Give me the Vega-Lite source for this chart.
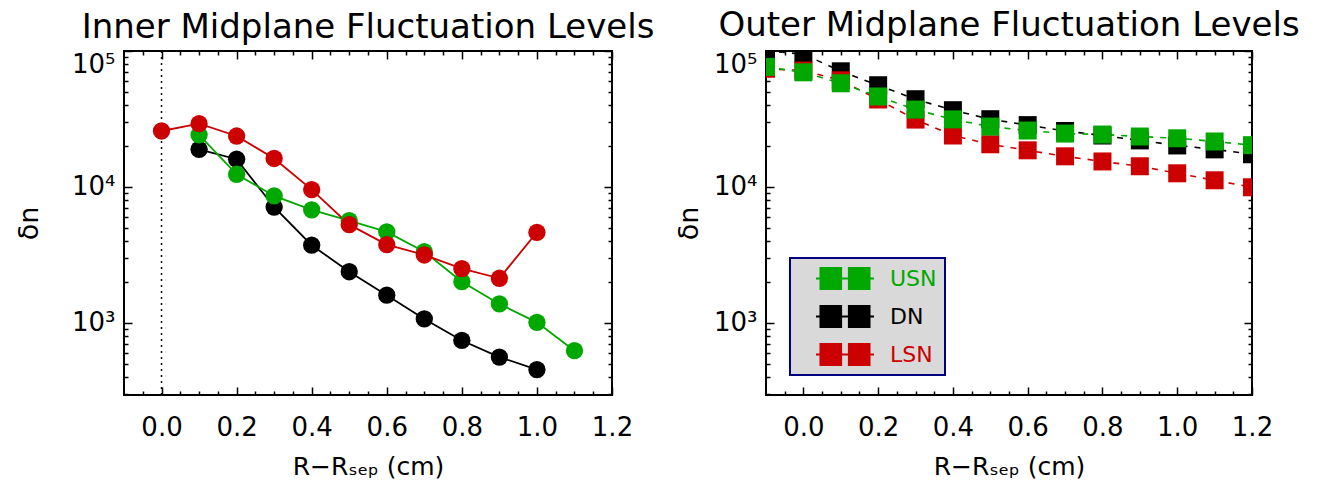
{
  "$schema": "https://vega.github.io/schema/vega-lite/v6.json",
  "padding": {"left": 14, "top": 8, "right": 0, "bottom": 0},
  "background": "white",
  "datasets": {
    "inner": [
      {"series": "DN", "r": 0.1, "dn": 18900},
      {"series": "DN", "r": 0.2, "dn": 16000},
      {"series": "DN", "r": 0.3, "dn": 7110},
      {"series": "DN", "r": 0.4, "dn": 3730},
      {"series": "DN", "r": 0.5, "dn": 2380},
      {"series": "DN", "r": 0.6, "dn": 1600},
      {"series": "DN", "r": 0.7, "dn": 1070},
      {"series": "DN", "r": 0.8, "dn": 743},
      {"series": "DN", "r": 0.9, "dn": 561},
      {"series": "DN", "r": 1.0, "dn": 454},
      {"series": "USN", "r": 0.1, "dn": 24200},
      {"series": "USN", "r": 0.2, "dn": 12400},
      {"series": "USN", "r": 0.3, "dn": 8590},
      {"series": "USN", "r": 0.4, "dn": 6790},
      {"series": "USN", "r": 0.5, "dn": 5650},
      {"series": "USN", "r": 0.6, "dn": 4670},
      {"series": "USN", "r": 0.7, "dn": 3340},
      {"series": "USN", "r": 0.8, "dn": 2010},
      {"series": "USN", "r": 0.9, "dn": 1380},
      {"series": "USN", "r": 1.0, "dn": 1010},
      {"series": "USN", "r": 1.1, "dn": 625},
      {"series": "LSN", "r": 0.0, "dn": 25800},
      {"series": "LSN", "r": 0.1, "dn": 29200},
      {"series": "LSN", "r": 0.2, "dn": 23700},
      {"series": "LSN", "r": 0.3, "dn": 16200},
      {"series": "LSN", "r": 0.4, "dn": 9560},
      {"series": "LSN", "r": 0.5, "dn": 5280},
      {"series": "LSN", "r": 0.6, "dn": 3770},
      {"series": "LSN", "r": 0.7, "dn": 3160},
      {"series": "LSN", "r": 0.8, "dn": 2510},
      {"series": "LSN", "r": 0.9, "dn": 2130},
      {"series": "LSN", "r": 1.0, "dn": 4640}
    ],
    "outer": [
      {"series": "DN", "r": -0.1, "dn": 100000},
      {"series": "DN", "r": 0.0, "dn": 95000},
      {"series": "DN", "r": 0.1, "dn": 70900},
      {"series": "DN", "r": 0.2, "dn": 56000},
      {"series": "DN", "r": 0.3, "dn": 44200},
      {"series": "DN", "r": 0.4, "dn": 36700},
      {"series": "DN", "r": 0.5, "dn": 31500},
      {"series": "DN", "r": 0.6, "dn": 28500},
      {"series": "DN", "r": 0.7, "dn": 25800},
      {"series": "DN", "r": 0.8, "dn": 23900},
      {"series": "DN", "r": 0.9, "dn": 22000},
      {"series": "DN", "r": 1.0, "dn": 20200},
      {"series": "DN", "r": 1.1, "dn": 18900},
      {"series": "DN", "r": 1.2, "dn": 17400},
      {"series": "LSN", "r": -0.1, "dn": 74000},
      {"series": "LSN", "r": 0.0, "dn": 71800},
      {"series": "LSN", "r": 0.1, "dn": 60900},
      {"series": "LSN", "r": 0.2, "dn": 44000},
      {"series": "LSN", "r": 0.3, "dn": 31300},
      {"series": "LSN", "r": 0.4, "dn": 23900},
      {"series": "LSN", "r": 0.5, "dn": 20600},
      {"series": "LSN", "r": 0.6, "dn": 18600},
      {"series": "LSN", "r": 0.7, "dn": 16800},
      {"series": "LSN", "r": 0.8, "dn": 15400},
      {"series": "LSN", "r": 0.9, "dn": 14200},
      {"series": "LSN", "r": 1.0, "dn": 12600},
      {"series": "LSN", "r": 1.1, "dn": 11200},
      {"series": "LSN", "r": 1.2, "dn": 9950},
      {"series": "USN", "r": -0.1, "dn": 76400},
      {"series": "USN", "r": 0.0, "dn": 69700},
      {"series": "USN", "r": 0.1, "dn": 57900},
      {"series": "USN", "r": 0.2, "dn": 46300},
      {"series": "USN", "r": 0.3, "dn": 37100},
      {"series": "USN", "r": 0.4, "dn": 31400},
      {"series": "USN", "r": 0.5, "dn": 27800},
      {"series": "USN", "r": 0.6, "dn": 26000},
      {"series": "USN", "r": 0.7, "dn": 24700},
      {"series": "USN", "r": 0.8, "dn": 24300},
      {"series": "USN", "r": 0.9, "dn": 23500},
      {"series": "USN", "r": 1.0, "dn": 22800},
      {"series": "USN", "r": 1.1, "dn": 21600},
      {"series": "USN", "r": 1.2, "dn": 20300}
    ],
    "zero": [{"r": 0}]
  },
  "resolve": {"scale": {"color": "independent"}, "legend": {"color": "independent"}},
  "hconcat": [
    {
      "width": 488,
      "height": 344,
      "title": {"text": "Inner Midplane Fluctuation Levels", "fontSize": 34, "font": "DejaVu Sans", "fontWeight": "normal", "color": "black", "anchor": "middle", "offset": 5},
      "resolve": {"axis": {"x": "independent", "y": "independent"}},
      "layer": [
        {
          "data": {"name": "zero"},
          "mark": {"type": "rule", "strokeDash": [2, 4], "strokeWidth": 1.5, "color": "black"},
          "encoding": {
            "x": {"field": "r", "type": "quantitative", "scale": {"domain": [-0.1, 1.2], "nice": false, "zero": false}, "axis": null}
          }
        },
        {
          "data": {"name": "inner"},
          "mark": {"type": "line", "strokeWidth": 1.8, "clip": true},
          "encoding": {
            "x": {"field": "r", "type": "quantitative", "scale": {"domain": [-0.1, 1.2], "nice": false, "zero": false},
              "axis": {"orient": "bottom", "values": [0, 0.2, 0.4, 0.6, 0.8, 1.0, 1.2], "format": ".1f", "tickSize": -8, "labelPadding": 27, "labelFontSize": 26, "labelFlush": false, "title": "R−Rₛₑₚ (cm)", "titleFontSize": 25, "titlePadding": 14}},
            "y": {"field": "dn", "type": "quantitative", "scale": {"type": "log", "domain": [295, 100000], "nice": false},
              "axis": {"orient": "left", "values": [1000, 10000, 100000], "labelExpr": "datum.value == 1000 ? '10³' : datum.value == 10000 ? '10⁴' : '10⁵'", "labelBaseline": {"condition": {"test": "datum.value == 100000", "value": "top"}, "value": "middle"}, "tickSize": -8, "labelPadding": 17, "labelFontSize": 26, "labelFlush": false, "title": "δn", "titleFontSize": 27, "titlePadding": 28}},
            "color": {"field": "series", "type": "nominal", "scale": {"domain": ["USN", "DN", "LSN"], "range": ["#00a800", "#000000", "#cc0000"]}, "legend": null}
          }
        },
        {
          "data": {"name": "inner"},
          "mark": {"type": "circle", "size": 300, "opacity": 1, "clip": true},
          "encoding": {
            "x": {"field": "r", "type": "quantitative", "scale": {"domain": [-0.1, 1.2], "nice": false, "zero": false},
              "axis": {"orient": "bottom", "values": [-0.05, 0.05, 0.1, 0.15, 0.25, 0.3, 0.35, 0.45, 0.5, 0.55, 0.65, 0.7, 0.75, 0.85, 0.9, 0.95, 1.05, 1.1, 1.15], "labels": false, "tickSize": -4, "title": null}},
            "y": {"field": "dn", "type": "quantitative", "scale": {"type": "log", "domain": [295, 100000], "nice": false},
              "axis": {"orient": "left", "values": [300, 400, 500, 600, 700, 800, 900, 2000, 3000, 4000, 5000, 6000, 7000, 8000, 9000, 20000, 30000, 40000, 50000, 60000, 70000, 80000, 90000], "labels": false, "tickSize": -4, "title": null}},
            "color": {"field": "series", "type": "nominal", "scale": {"domain": ["USN", "DN", "LSN"], "range": ["#00a800", "#000000", "#cc0000"]}, "legend": null}
          }
        },
        {
          "data": {"name": "inner"},
          "mark": {"type": "point", "opacity": 0},
          "encoding": {
            "x": {"field": "r", "type": "quantitative", "scale": {"domain": [-0.1, 1.2], "nice": false, "zero": false},
              "axis": {"orient": "top", "values": [0, 0.2, 0.4, 0.6, 0.8, 1.0, 1.2], "labels": false, "tickSize": -8, "title": null}},
            "y": {"field": "dn", "type": "quantitative", "scale": {"type": "log", "domain": [295, 100000], "nice": false},
              "axis": {"orient": "right", "values": [1000, 10000, 100000], "labels": false, "tickSize": -8, "title": null}}
          }
        },
        {
          "data": {"name": "inner"},
          "mark": {"type": "point", "opacity": 0},
          "encoding": {
            "x": {"field": "r", "type": "quantitative", "scale": {"domain": [-0.1, 1.2], "nice": false, "zero": false},
              "axis": {"orient": "top", "values": [-0.05, 0.05, 0.1, 0.15, 0.25, 0.3, 0.35, 0.45, 0.5, 0.55, 0.65, 0.7, 0.75, 0.85, 0.9, 0.95, 1.05, 1.1, 1.15], "labels": false, "tickSize": -4, "title": null}},
            "y": {"field": "dn", "type": "quantitative", "scale": {"type": "log", "domain": [295, 100000], "nice": false},
              "axis": {"orient": "right", "values": [300, 400, 500, 600, 700, 800, 900, 2000, 3000, 4000, 5000, 6000, 7000, 8000, 9000, 20000, 30000, 40000, 50000, 60000, 70000, 80000, 90000], "labels": false, "tickSize": -4, "title": null}}
          }
        }
      ]
    },
    {
      "width": 486,
      "height": 344,
      "title": {"text": "Outer Midplane Fluctuation Levels", "fontSize": 34, "font": "DejaVu Sans", "fontWeight": "normal", "color": "black", "anchor": "middle", "offset": 5},
      "resolve": {"axis": {"x": "independent", "y": "independent"}},
      "layer": [
        {
          "data": {"name": "outer"},
          "mark": {"type": "line", "strokeWidth": 1.6, "strokeDash": [6, 7], "clip": true},
          "encoding": {
            "x": {"field": "r", "type": "quantitative", "scale": {"domain": [-0.1, 1.2], "nice": false, "zero": false},
              "axis": {"orient": "bottom", "values": [0, 0.2, 0.4, 0.6, 0.8, 1.0, 1.2], "format": ".1f", "tickSize": -8, "labelPadding": 27, "labelFontSize": 26, "labelFlush": false, "title": "R−Rₛₑₚ (cm)", "titleFontSize": 25, "titlePadding": 14}},
            "y": {"field": "dn", "type": "quantitative", "scale": {"type": "log", "domain": [295, 100000], "nice": false},
              "axis": {"orient": "left", "values": [1000, 10000, 100000], "labelExpr": "datum.value == 1000 ? '10³' : datum.value == 10000 ? '10⁴' : '10⁵'", "labelBaseline": {"condition": {"test": "datum.value == 100000", "value": "top"}, "value": "middle"}, "tickSize": -8, "labelPadding": 17, "labelFontSize": 26, "labelFlush": false, "title": "δn", "titleFontSize": 27, "titlePadding": 10}},
            "color": {"field": "series", "type": "nominal", "scale": {"domain": ["USN", "DN", "LSN"], "range": ["#00a800", "#000000", "#cc0000"]},
              "legend": {
                "orient": "none", "legendX": 24, "legendY": 207, "title": null, "direction": "vertical",
                "symbolType": "M-1,-0.035H1V0.035H-1Z M-0.88,-0.4H-0.1V0.4H-0.88Z M0.1,-0.4H0.88V0.4H0.1Z",
                "symbolSize": 3364, "symbolStrokeWidth": 0, "clipHeight": 25, "symbolOffset": 18,
                "labelFontSize": 22, "labelFont": "DejaVu Sans", "labelOffset": 16,
                "labelExpr": "datum.label + '\u00a0\u00a0\u00a0'",
                "labelColor": {"expr": "datum.value === 'USN' ? '#00a800' : datum.value === 'LSN' ? '#cc0000' : '#000000'"},
                "rowPadding": 13, "padding": 8,
                "fillColor": "#d9d9d9", "strokeColor": "#000080",
                "encode": {
                  "labels": {"update": {"fill": {"signal": "datum.value === 'USN' ? '#00a800' : datum.value === 'LSN' ? '#cc0000' : '#000000'"}}},
                  "legend": {"update": {"strokeWidth": {"value": 2}}}
                }
              }}
          }
        },
        {
          "data": {"name": "outer"},
          "mark": {"type": "square", "size": 324, "opacity": 1, "clip": true},
          "encoding": {
            "x": {"field": "r", "type": "quantitative", "scale": {"domain": [-0.1, 1.2], "nice": false, "zero": false},
              "axis": {"orient": "bottom", "values": [-0.05, 0.05, 0.1, 0.15, 0.25, 0.3, 0.35, 0.45, 0.5, 0.55, 0.65, 0.7, 0.75, 0.85, 0.9, 0.95, 1.05, 1.1, 1.15], "labels": false, "tickSize": -4, "title": null}},
            "y": {"field": "dn", "type": "quantitative", "scale": {"type": "log", "domain": [295, 100000], "nice": false},
              "axis": {"orient": "left", "values": [300, 400, 500, 600, 700, 800, 900, 2000, 3000, 4000, 5000, 6000, 7000, 8000, 9000, 20000, 30000, 40000, 50000, 60000, 70000, 80000, 90000], "labels": false, "tickSize": -4, "title": null}},
            "color": {"field": "series", "type": "nominal", "scale": {"domain": ["USN", "DN", "LSN"], "range": ["#00a800", "#000000", "#cc0000"]},
              "legend": {
                "orient": "none", "legendX": 24, "legendY": 207, "title": null, "direction": "vertical",
                "symbolType": "M-1,-0.035H1V0.035H-1Z M-0.88,-0.4H-0.1V0.4H-0.88Z M0.1,-0.4H0.88V0.4H0.1Z",
                "symbolSize": 3364, "symbolStrokeWidth": 0, "clipHeight": 25, "symbolOffset": 18,
                "labelFontSize": 22, "labelFont": "DejaVu Sans", "labelOffset": 16,
                "labelExpr": "datum.label + '\u00a0\u00a0\u00a0'",
                "labelColor": {"expr": "datum.value === 'USN' ? '#00a800' : datum.value === 'LSN' ? '#cc0000' : '#000000'"},
                "rowPadding": 13, "padding": 8,
                "fillColor": "#d9d9d9", "strokeColor": "#000080",
                "encode": {
                  "labels": {"update": {"fill": {"signal": "datum.value === 'USN' ? '#00a800' : datum.value === 'LSN' ? '#cc0000' : '#000000'"}}},
                  "legend": {"update": {"strokeWidth": {"value": 2}}}
                }
              }}
          }
        },
        {
          "data": {"name": "outer"},
          "mark": {"type": "point", "opacity": 0},
          "encoding": {
            "x": {"field": "r", "type": "quantitative", "scale": {"domain": [-0.1, 1.2], "nice": false, "zero": false},
              "axis": {"orient": "top", "values": [0, 0.2, 0.4, 0.6, 0.8, 1.0, 1.2], "labels": false, "tickSize": -8, "title": null}},
            "y": {"field": "dn", "type": "quantitative", "scale": {"type": "log", "domain": [295, 100000], "nice": false},
              "axis": {"orient": "right", "values": [1000, 10000, 100000], "labels": false, "tickSize": -8, "title": null}}
          }
        },
        {
          "data": {"name": "outer"},
          "mark": {"type": "point", "opacity": 0},
          "encoding": {
            "x": {"field": "r", "type": "quantitative", "scale": {"domain": [-0.1, 1.2], "nice": false, "zero": false},
              "axis": {"orient": "top", "values": [-0.05, 0.05, 0.1, 0.15, 0.25, 0.3, 0.35, 0.45, 0.5, 0.55, 0.65, 0.7, 0.75, 0.85, 0.9, 0.95, 1.05, 1.1, 1.15], "labels": false, "tickSize": -4, "title": null}},
            "y": {"field": "dn", "type": "quantitative", "scale": {"type": "log", "domain": [295, 100000], "nice": false},
              "axis": {"orient": "right", "values": [300, 400, 500, 600, 700, 800, 900, 2000, 3000, 4000, 5000, 6000, 7000, 8000, 9000, 20000, 30000, 40000, 50000, 60000, 70000, 80000, 90000], "labels": false, "tickSize": -4, "title": null}}
          }
        }
      ]
    }
  ],
  "spacing": 154,
  "bounds": "flush",
  "config": {
    "view": {"stroke": "black", "strokeWidth": 2},
    "font": "DejaVu Sans",
    "axis": {"domain": false, "grid": false, "labelFont": "DejaVu Sans", "labelColor": "black", "tickColor": "black", "tickWidth": 1.5, "titleFont": "DejaVu Sans", "titleFontWeight": "normal", "titleColor": "black"}
  }
}
